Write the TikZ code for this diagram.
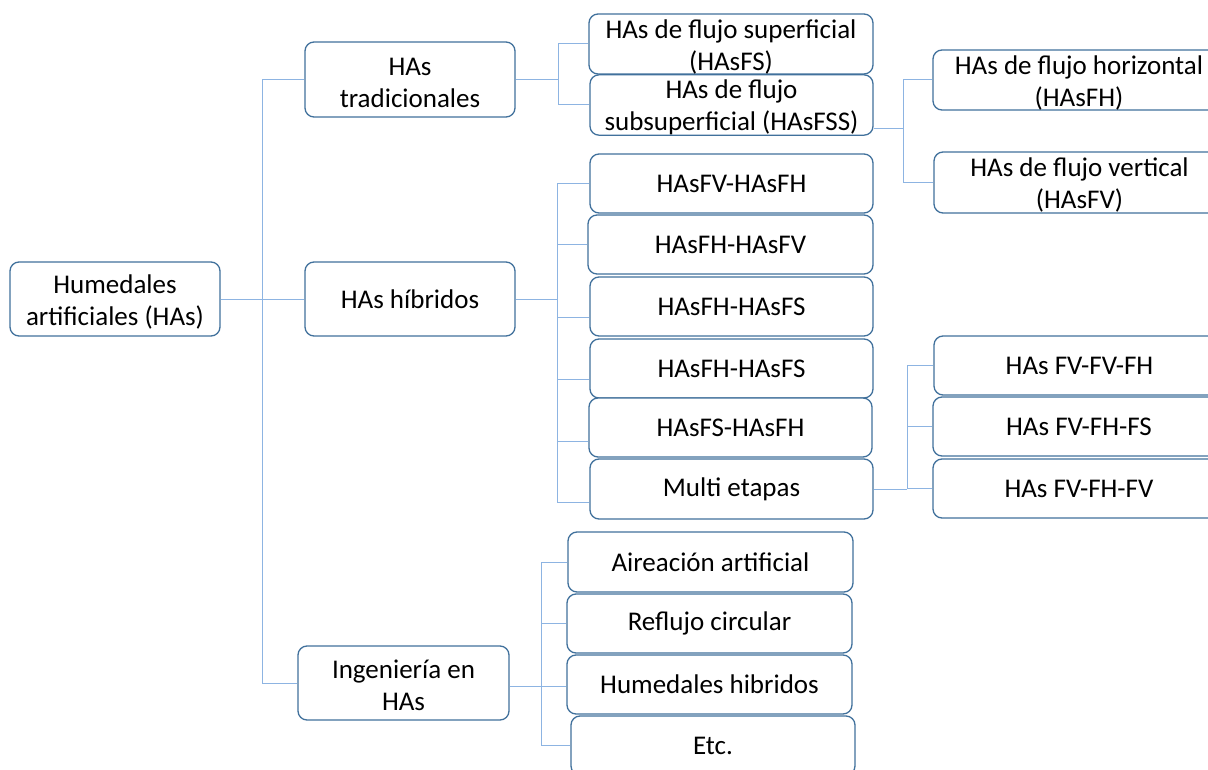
\documentclass[tikz,border=0pt]{standalone}
\usepackage{fontspec}
\setmainfont{Carlito}
\definecolor{boxline}{HTML}{41719C}
\definecolor{linkblue}{HTML}{8DB4E2}
% rounded box given by its corners (x1,y1)-(x2,y2), y measured downwards
\newcommand\bx[7][]{\node[box,#1,minimum width={#5-#3},minimum height={#6-#4}] (#2) at ({(#3+#5)/2},{(#4+#6)/2}) {#7};}
\begin{document}
\begin{tikzpicture}[x=1pt,y=-1pt,
  box/.style={draw=boxline,line width=1.3pt,rounded corners=9pt,fill=white,inner sep=0pt,
    align=center,text=black,font=\fontsize{27}{32}\selectfont},
  twoline/.style={text height=56pt},
  conn/.style={draw=linkblue,line width=1pt}]
\clip (0,0) rectangle (1208,770);
\fill[white] (0,0) rectangle (1208,770);

% bus positions
\coordinate (b1) at (262,0);
\coordinate (b2) at (558,0);
\coordinate (b3) at (903,0);
\coordinate (b4) at (557,0);
\coordinate (b5) at (907,0);
\coordinate (b6) at (541,0);

% boxes
\bx[twoline]{root}{10}{262}{220}{336}{Humedales\\artificiales (HAs)}
\bx[twoline]{trad}{305}{42}{515}{117}{HAs\\tradicionales}
\bx{hib}{305}{262}{515}{336}{HAs híbridos}
\bx[twoline]{ing}{298}{646}{509}{720}{Ingeniería en\\HAs}

\bx[twoline]{fs}{589}{14}{873}{74}{HAs de flujo superficial\\(HAsFS)}
\bx[twoline]{fss}{590}{76}{873}{134}{HAs de flujo\\subsuperficial (HAsFSS)}
\bx[twoline]{fh}{933}{50}{1225}{110}{HAs de flujo horizontal\\(HAsFH)}
\bx[twoline]{fv}{934}{152}{1225}{213}{HAs de flujo vertical\\(HAsFV)}

\bx{h1}{590}{154}{873}{213}{HAsFV-HAsFH}
\bx{h2}{588}{215}{873}{274}{HAsFH-HAsFV}
\bx{h3}{590}{277}{873}{336}{HAsFH-HAsFS}
\bx{h4}{590}{339}{873}{398}{HAsFH-HAsFS}
\bx{h5}{589}{398}{872}{457}{HAsFS-HAsFH}
\bx{h6}{590}{459}{873}{519}{Multi etapas}

\bx{m1}{934}{336}{1225}{395}{HAs FV-FV-FH}
\bx{m2}{933}{397}{1225}{456}{HAs FV-FH-FS}
\bx{m3}{933}{459}{1225}{518}{HAs FV-FH-FV}

\bx{e1}{568}{532}{853}{592}{Aireación artificial}
\bx{e2}{567}{594}{852}{653}{Reflujo circular}
\bx{e3}{567}{655}{852}{714}{Humedales hibridos}
\bx{e4}{571}{716}{855}{775}{Etc.}

% connectors from the root
\draw[conn] (root.east) -- (hib.west);
\draw[conn] (trad.west) -- (trad.west -| b1) -- (ing.west -| b1) -- (ing.west);

% traditional wetlands
\draw[conn] (trad.east) -- (trad.east -| b2);
\draw[conn] (fs.west) -- (fs.west -| b2) -- (fss.west -| b2) -- (fss.west);

% subsurface flow
\draw[conn] ([yshift=-24pt]fss.east) -- ([yshift=-24pt]fss.east -| b3);
\draw[conn] (fh.west) -- (fh.west -| b3) -- (fv.west -| b3) -- (fv.west);

% hybrid wetlands
\draw[conn] (hib.east) -- (hib.east -| b4);
\draw[conn] (h1.west) -- (h1.west -| b4) -- ([yshift=-13pt]h6.west -| b4) -- ([yshift=-13pt]h6.west);
\draw[conn] (h2.west -| b4) -- (h2.west);
\draw[conn] ([yshift=-11pt]h3.west -| b4) -- ([yshift=-11pt]h3.west);
\draw[conn] ([yshift=-11pt]h4.west -| b4) -- ([yshift=-11pt]h4.west);
\draw[conn] ([yshift=-14pt]h5.west -| b4) -- ([yshift=-14pt]h5.west);

% multi-stage systems
\draw[conn] (h6.east) -- (h6.east -| b5);
\draw[conn] (m1.west) -- (m1.west -| b5) -- (m3.west -| b5) -- (m3.west);
\draw[conn] (m2.west -| b5) -- (m2.west);

% engineering
\draw[conn] ([yshift=-3pt]ing.east) -- ([yshift=-3pt]ing.east -| e3.west);
\draw[conn] (e1.west) -- (e1.west -| b6) -- (e4.west -| b6) -- (e4.west);
\draw[conn] (e2.west -| b6) -- (e2.west);
\end{tikzpicture}
\end{document}
